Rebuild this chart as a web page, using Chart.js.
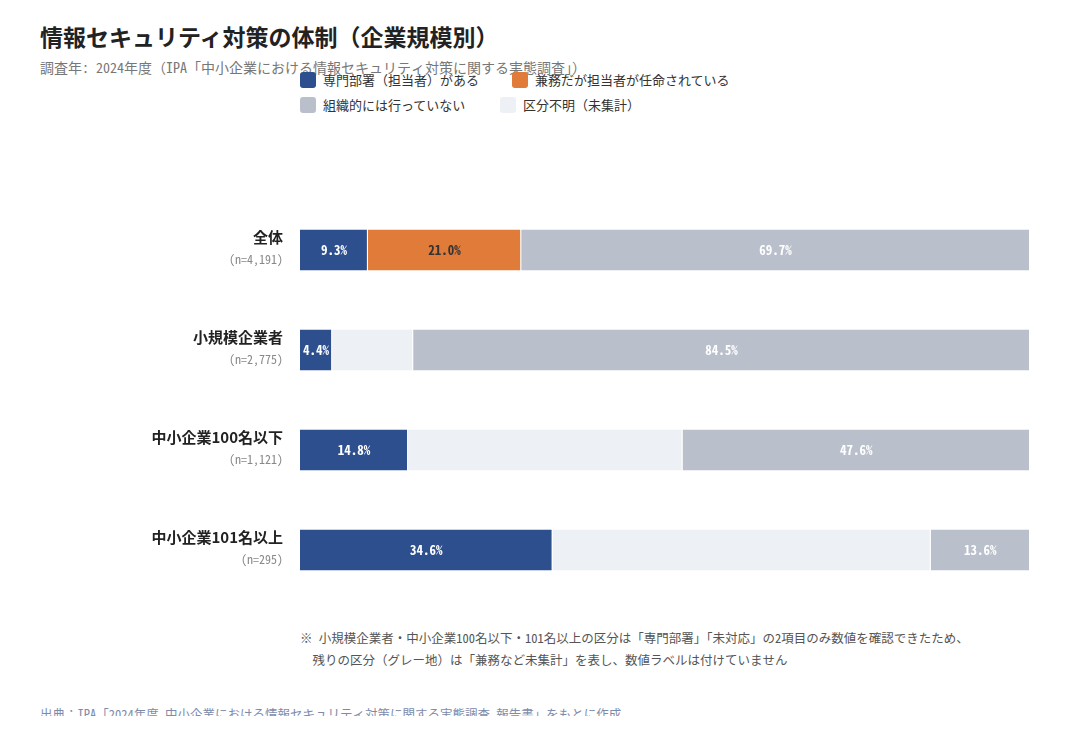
<!DOCTYPE html>
<html lang="ja">
<head>
<meta charset="utf-8">
<title>情報セキュリティ対策の体制（企業規模別）</title>
<script src="https://cdn.jsdelivr.net/npm/chart.js@4.4.1/dist/chart.umd.min.js"></script>
<style>
  html, body { margin: 0; padding: 0; background: #fff; }
  body { width: 1080px; height: 740px; position: relative; overflow: hidden;
         font-family: "Noto Sans CJK JP", "Noto Sans", sans-serif; color: #222; }
  .title { position: absolute; left: 40px; top: 19px; font-size: 23px; font-weight: 700; color: #222; }
  .sub { position: absolute; left: 40px; top: 57px; font-size: 14px; color: #777;
         font-family: "Noto Sans Mono CJK JP", "Noto Sans CJK JP", monospace; }
  .legend { position: absolute; left: 300px; top: 67px; width: 460px; display: flex; flex-wrap: wrap; }
  .legend .item { display: flex; align-items: center; height: 25px; font-size: 13px; color: #333; }
  .legend .box { width: 16px; height: 16px; border-radius: 3px; margin-right: 7px; }
  .chartwrap { position: absolute; left: 0; top: 180px; width: 1080px; height: 440px; }
  .note { position: absolute; left: 300px; top: 627px; font-size: 12.5px; color: #555; line-height: 22px;
          font-family: "Noto Sans Mono CJK JP", "Noto Sans CJK JP", monospace; }
  .src { position: absolute; left: 40px; top: 704px; height: 12px; overflow: hidden; font-size: 12.5px; color: #7d8bab;
         font-family: "Noto Sans Mono CJK JP", "Noto Sans CJK JP", monospace; }
</style>
</head>
<body>
<div class="title">情報セキュリティ対策の体制（企業規模別）</div>
<div class="sub">調査年: 2024年度（IPA「中小企業における情報セキュリティ対策に関する実態調査」）</div>
<div class="legend" id="legend"></div>
<div class="chartwrap"><canvas id="chart"></canvas></div>
<div class="note">※ 小規模企業者・中小企業100名以下・101名以上の区分は「専門部署」「未対応」の2項目のみ数値を確認できたため、<br>&nbsp;&nbsp;残りの区分（グレー地）は「兼務など未集計」を表し、数値ラベルは付けていません</div>
<div class="src">出典：IPA「2024年度 中小企業における情報セキュリティ対策に関する実態調査 報告書」をもとに作成</div>
<script>
const categories = ['全体', '小規模企業者', '中小企業100名以下', '中小企業101名以上'];
const sampleSizes = ['(n=4,191)', '(n=2,775)', '(n=1,121)', '(n=295)'];

const dedicated = [9.3, 4.4, 14.8, 34.6];     // 専門部署（担当者）がある
const concurrent = [21.0, 0, 0, 0];           // 兼務だが担当者が任命されている
const notOrganized = [69.7, 84.5, 47.6, 13.6]; // 組織的には行っていない
const unknown = [0, 11.1, 37.6, 51.8];        // 区分不明（未集計）

const colors = {
  dedicated: '#2d4f8e',
  concurrent: '#e07b3a',
  notOrganized: '#b9bfcb',
  unknown: '#edf0f5'
};

// legend order differs from stacking order
const legendItems = [
  { label: '専門部署（担当者）がある', color: colors.dedicated, w: 212 },
  { label: '兼務だが担当者が任命されている', color: colors.concurrent, w: 230 },
  { label: '組織的には行っていない', color: colors.notOrganized, w: 200 },
  { label: '区分不明（未集計）', color: colors.unknown, w: 200 }
];
const legendEl = document.getElementById('legend');
legendItems.forEach(it => {
  const d = document.createElement('div');
  d.className = 'item';
  d.style.width = it.w + 'px';
  d.innerHTML = '<span class="box" style="background:' + it.color + '"></span>' + it.label;
  legendEl.appendChild(d);
});

const sep = { top: 0, right: 1, bottom: 0, left: 0 };

const datasets = [
  { label: '専門部署（担当者）がある', data: dedicated, backgroundColor: colors.dedicated, showValue: true, textColor: '#ffffff' },
  { label: '兼務だが担当者が任命されている', data: concurrent, backgroundColor: colors.concurrent, showValue: true, textColor: '#333333' },
  { label: '区分不明（未集計）', data: unknown, backgroundColor: colors.unknown, showValue: false },
  { label: '組織的には行っていない', data: notOrganized, backgroundColor: colors.notOrganized, showValue: true, textColor: '#ffffff' }
].map(ds => Object.assign(ds, { borderColor: 'rgba(255,255,255,0.5)', borderWidth: sep, borderSkipped: false }));

// value labels in each segment
const valueLabels = {
  id: 'valueLabels',
  afterDatasetsDraw(chart) {
    const ctx = chart.ctx;
    ctx.save();
    ctx.font = 'bold 13px "Noto Sans Mono CJK JP", "Noto Sans CJK JP", monospace';
    ctx.textAlign = 'center';
    ctx.textBaseline = 'middle';
    chart.data.datasets.forEach((ds, di) => {
      if (!ds.showValue) return;
      chart.getDatasetMeta(di).data.forEach((bar, i) => {
        const v = ds.data[i];
        if (!v) return;
        const p = bar.getCenterPoint();
        ctx.fillStyle = ds.textColor;
        ctx.fillText(v.toFixed(1) + '%', p.x, p.y);
      });
    });
    ctx.restore();
  }
};

// two-line category labels left of the bars
const categoryLabels = {
  id: 'categoryLabels',
  afterDraw(chart) {
    const ctx = chart.ctx;
    const y = chart.scales.y;
    const x = chart.chartArea.left - 17;
    ctx.save();
    ctx.textAlign = 'right';
    ctx.textBaseline = 'middle';
    categories.forEach((c, i) => {
      const cy = y.getPixelForValue(i);
      ctx.font = 'bold 15px "Noto Sans CJK JP", sans-serif';
      ctx.fillStyle = '#222222';
      ctx.fillText(c, x, cy - 13);
      ctx.font = '12px "Noto Sans Mono CJK JP", "Noto Sans CJK JP", monospace';
      ctx.fillStyle = '#888888';
      ctx.fillText(sampleSizes[i], x, cy + 9);
    });
    ctx.restore();
  }
};

new Chart(document.getElementById('chart'), {
  type: 'bar',
  data: { labels: categories, datasets: datasets },
  options: {
    indexAxis: 'y',
    responsive: true,
    maintainAspectRatio: false,
    animation: false,
    layout: { padding: { left: 300, right: 50, top: 20, bottom: 20 } },
    datasets: { bar: { barPercentage: 0.41, categoryPercentage: 1.0 } },
    scales: {
      x: { stacked: true, min: 0, max: 100, display: false },
      y: { stacked: true, display: false }
    },
    plugins: {
      legend: { display: false },
      tooltip: { enabled: false }
    }
  },
  plugins: [valueLabels, categoryLabels]
});
</script>
</body>
</html>
